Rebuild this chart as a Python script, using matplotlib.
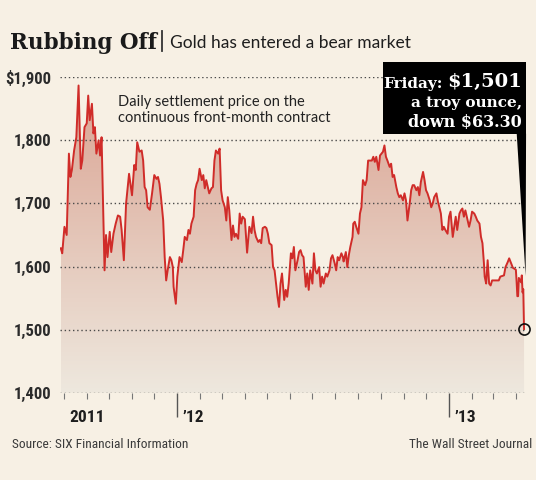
"""
Rubbing Off: gold front-month settlement price, Aug 2011 - Apr 2013.

Redraws the WSJ chart with matplotlib and saves it as out.png.
"""

import os
import numpy as np
import pandas as pd
import matplotlib

matplotlib.use("Agg")
import matplotlib.pyplot as plt
import matplotlib.dates as mdates
from matplotlib import font_manager as fm
from matplotlib.patches import Rectangle, Polygon
from matplotlib.lines import Line2D

# ---- data --------------------------------------------------------------
start_date = "2011-08-01"
day_offsets = [
    -4, -2, 1, 4, 7, 9, 11, 14, 17, 20, 23, 25, 28, 31, 33, 35, 38, 40, 42, 44,
    47, 49, 51, 55, 57, 59, 62, 64, 67, 70, 73, 76, 78, 81, 84, 88, 92, 95, 97,
    99, 102, 105, 107, 109, 111, 113, 116, 119, 122, 125, 127, 129, 131, 134,
    136, 138, 140, 143, 145, 147, 148, 151, 153, 156, 159, 161, 163, 166, 168,
    170, 172, 175, 177, 179, 181, 183, 186, 188, 190, 192, 196, 199, 201, 203,
    205, 208, 210, 212, 214, 217, 219, 221, 223, 226, 228, 230, 232, 235, 237,
    239, 241, 244, 247, 250, 253, 255, 257, 259, 262, 264, 266, 268, 271, 273,
    275, 277, 280, 282, 284, 286, 288, 290, 292, 294, 297, 299, 301, 303, 306,
    308, 310, 312, 315, 317, 319, 321, 323, 326, 328, 330, 332, 335, 337, 339,
    341, 344, 346, 348, 350, 353, 355, 358, 360, 362, 365, 367, 369, 371, 374,
    376, 377, 380, 382, 384, 386, 389, 390, 392, 394, 397, 399, 401, 403, 406,
    408, 410, 412, 415, 417, 419, 421, 424, 426, 428, 430, 432, 434, 436, 439,
    441, 443, 445, 448, 450, 452, 454, 457, 459, 461, 463, 466, 468, 470, 472,
    475, 477, 479, 481, 484, 486, 488, 490, 493, 495, 497, 499, 502, 504, 506,
    508, 510, 512, 514, 517, 519, 521, 524, 526, 528, 530, 533, 535, 537, 539,
    541, 544, 546, 548, 550, 553, 555, 557, 560, 562, 564, 566, 567, 569, 571,
    573, 575, 577, 582, 586, 588, 593, 595, 598, 600, 602, 605, 609, 610, 611,
    612, 613, 616, 617, 618, 619, 620,
]
prices = [
    1629, 1621, 1663, 1650, 1779, 1742, 1753, 1784, 1805, 1887, 1755, 1768,
    1821, 1827, 1871, 1832, 1858, 1811, 1821, 1779, 1800, 1776, 1805, 1594,
    1650, 1615, 1655, 1623, 1652, 1668, 1681, 1679, 1658, 1610, 1700, 1747,
    1713, 1761, 1753, 1797, 1782, 1784, 1768, 1726, 1721, 1694, 1690, 1716,
    1745, 1739, 1742, 1731, 1710, 1673, 1615, 1578, 1594, 1615, 1610, 1599,
    1568, 1541, 1584, 1615, 1607, 1626, 1647, 1642, 1658, 1652, 1668, 1679,
    1721, 1731, 1737, 1755, 1737, 1745, 1724, 1737, 1716, 1724, 1726, 1768,
    1784, 1779, 1787, 1721, 1705, 1694, 1673, 1710, 1689, 1642, 1665, 1647,
    1652, 1644, 1684, 1668, 1679, 1675, 1622, 1663, 1653, 1679, 1658, 1647,
    1639, 1642, 1637, 1661, 1663, 1661, 1652, 1637, 1634, 1599, 1594, 1573,
    1552, 1536, 1573, 1589, 1547, 1563, 1552, 1573, 1621, 1613, 1631, 1594,
    1610, 1623, 1626, 1618, 1615, 1568, 1589, 1563, 1594, 1573, 1621, 1594,
    1589, 1599, 1568, 1584, 1573, 1589, 1584, 1594, 1613, 1618, 1605, 1594,
    1615, 1610, 1621, 1615, 1608, 1623, 1599, 1618, 1631, 1647, 1668, 1671,
    1663, 1652, 1684, 1694, 1737, 1729, 1737, 1768, 1768, 1768, 1774, 1766,
    1774, 1753, 1776, 1779, 1782, 1792, 1774, 1768, 1758, 1763, 1742, 1745,
    1726, 1716, 1710, 1713, 1705, 1716, 1705, 1673, 1700, 1721, 1729, 1729,
    1721, 1726, 1713, 1734, 1750, 1737, 1721, 1716, 1705, 1694, 1700, 1710,
    1716, 1703, 1694, 1684, 1658, 1663, 1658, 1652, 1679, 1687, 1647, 1663,
    1679, 1658, 1684, 1689, 1692, 1679, 1689, 1673, 1663, 1673, 1687, 1684,
    1679, 1673, 1668, 1647, 1637, 1605, 1584, 1573, 1610, 1573, 1570, 1578,
    1578, 1578, 1584, 1586, 1599, 1607, 1613, 1607, 1598, 1595, 1576, 1553,
    1553, 1582, 1575, 1586, 1559, 1564, 1501,
]
y_ticks = [1400, 1500, 1600, 1700, 1800, 1900]
y_tick_labels = ["1,400", "1,500", "1,600", "1,700", "1,800", "$1,900"]
year_labels = ["2011", "\u201912", "\u201913"]
year_label_dates = ["2011-08-01", "2012-01-01", "2013-01-01"]
year_tick_dates = ["2012-01-01", "2013-01-01"]
month_tick_range = ("2011-08-01", "2013-04-01")

# ---- style --------------------------------------------------------------
BG = "#f7f0e4"
RED = "#d02c29"
GRID = "#4a4a4a"
SLAB = ["DejaVu Serif"]
SANS = ["Lato", "DejaVu Sans"]


def narrow_font(bold: bool) -> fm.FontProperties:
    """Pick the narrowest sans face that is installed."""
    if bold:
        wanted = ["LiberationSansNarrow-Bold.", "RobotoCondensed-Bold.",
                  "NotoSans-CondensedBold.", "DejaVuSansCondensed-Bold."]
    else:
        wanted = ["LiberationSansNarrow-Regular.", "RobotoCondensed-Regular.",
                  "NotoSans-Condensed.", "DejaVuSansCondensed."]
    files = [f.fname for f in fm.fontManager.ttflist]
    for w in wanted:
        for path in files:
            if os.path.basename(path).startswith(w):
                return fm.FontProperties(fname=path)
    return fm.FontProperties(family=["Roboto", "DejaVu Sans"],
                             weight="bold" if bold else "normal")


def gradient_fill(ax, x, y, y0, y1, top_color, bottom_color):
    """Fill under the curve with a vertical colour gradient."""
    poly = ax.fill_between(x, y, y0, facecolor="none", edgecolor="none")
    top = np.array(matplotlib.colors.to_rgb(top_color))
    bottom = np.array(matplotlib.colors.to_rgb(bottom_color))
    t = np.linspace(0, 1, 256)[:, None]
    img = (top * (1 - t) + bottom * t)[:, None, :]
    xmin, xmax = mdates.date2num(x[0]), mdates.date2num(x[-1])
    im = ax.imshow(img, aspect="auto", extent=[xmin, xmax, y0, y1],
                   origin="upper", zorder=1, interpolation="bilinear")
    im.set_clip_path(poly.get_paths()[0], transform=ax.transData)
    return im


def main() -> None:
    dates = pd.Timestamp(start_date) + pd.to_timedelta(day_offsets, unit="D")
    dates = dates.to_pydatetime()
    nb = narrow_font(True)
    nr = narrow_font(False)

    fig = plt.figure(figsize=(5.36, 4.8), dpi=100, facecolor=BG)
    ax = fig.add_axes([60 / 536, 1 - 392.7 / 480, 467 / 536, 315.4 / 480])
    ax.set_facecolor("none")

    gradient_fill(ax, dates, prices, 1400, 1900, "#daa291", "#eee8de")
    ax.plot(dates, prices, color=RED, lw=1.4, zorder=3, solid_joinstyle="round")

    # dotted horizontal gridlines
    for yv in y_ticks:
        ax.axhline(yv, color=GRID, lw=1.0, ls=(0, (1, 2)), zorder=2)

    ax.set_xlim(pd.Timestamp("2011-07-27"), pd.Timestamp("2013-04-16"))
    ax.set_ylim(1400, 1900)
    for s in ax.spines.values():
        s.set_visible(False)

    ax.set_yticks(y_ticks)
    ax.set_yticklabels(y_tick_labels, fontproperties=nb, fontsize=12,
                       color="#2b2b2b")
    ax.tick_params(axis="y", length=0, pad=6)

    ax.set_xticks(pd.to_datetime(year_tick_dates))
    ax.set_xticklabels([])
    ax.tick_params(axis="x", which="major", length=17, width=1.0,
                   color="#555555", direction="out")
    ax.set_xticks(pd.date_range(*month_tick_range, freq="MS"), minor=True)
    ax.tick_params(axis="x", which="minor", length=4.5, width=0.8,
                   color="#777777", direction="out")

    for lab, d in zip(year_labels, year_label_dates):
        ax.annotate(lab, xy=(pd.Timestamp(d), 0), xycoords=("data", "axes fraction"),
                    xytext=(4, -18), textcoords="offset points", ha="left",
                    va="center", fontproperties=nb, fontsize=12.5,
                    color="#1e1e1e")

    # last-point circle
    ax.plot(dates[-1], prices[-1], marker="o", ms=8, mfc="none", mec="#111111",
            mew=1.2, zorder=6, clip_on=False)

    # callout box with pointer
    ax.add_patch(Rectangle((0.692, 0.820), 0.306, 0.229, transform=ax.transAxes,
                           facecolor="black", edgecolor="none", zorder=5,
                           clip_on=False))
    ax.add_patch(Polygon([(0.978, 0.821), (0.998, 0.821), (0.997, 0.37)],
                         closed=True, transform=ax.transAxes, facecolor="black",
                         edgecolor="none", zorder=5, clip_on=False))
    price_txt = ax.text(0.989, 0.958, "$1,501", transform=ax.transAxes,
                        ha="right", va="bottom", color="white", family=SLAB,
                        fontweight="bold", fontsize=14, zorder=6)
    ax.annotate("Friday:", xy=(0, 0), xycoords=price_txt, xytext=(-3, 0),
                textcoords="offset points", ha="right", va="bottom",
                color="white", family=SLAB, fontweight="bold", fontsize=11,
                zorder=6)
    ax.text(0.989, 0.905, "a troy ounce,", transform=ax.transAxes, ha="right",
            va="baseline", color="white", family=SLAB, fontweight="bold",
            fontsize=11, zorder=6)
    ax.text(0.989, 0.842, "down $63.30", transform=ax.transAxes, ha="right",
            va="baseline", color="white", family=SLAB, fontweight="bold",
            fontsize=11.5, zorder=6)

    ax.text(0.124, 0.945, "Daily settlement price on the\ncontinuous front-month contract",
            transform=ax.transAxes, ha="left", va="top", family=SANS,
            fontsize=10.5, color="#222222", linespacing=1.25)

    # title line
    fig.text(10 / 536, 1 - 49 / 480, "Rubbing Off", family=SLAB,
             fontweight="bold", fontsize=15.5, color="#1a1a1a", va="baseline")
    fig.add_artist(Line2D([162 / 536, 162 / 536], [1 - 51 / 480, 1 - 31 / 480],
                          color="#333333", lw=1.3))
    fig.text(170 / 536, 1 - 48 / 480, "Gold has entered a bear market",
             family=SANS, fontsize=12.5, color="#1e1e1e", va="baseline")

    # footer
    fig.text(12 / 536, 1 - 448 / 480, "Source: SIX Financial Information",
             fontproperties=nr, fontsize=9.6, color="#3a3a3a", va="baseline")
    fig.text(532 / 536, 1 - 448 / 480, "The Wall Street Journal",
             fontproperties=nr, fontsize=9.6, color="#3a3a3a", va="baseline",
             ha="right")

    fig.savefig("out.png", dpi=100, facecolor=BG)
    plt.close(fig)


if __name__ == "__main__":
    main()
